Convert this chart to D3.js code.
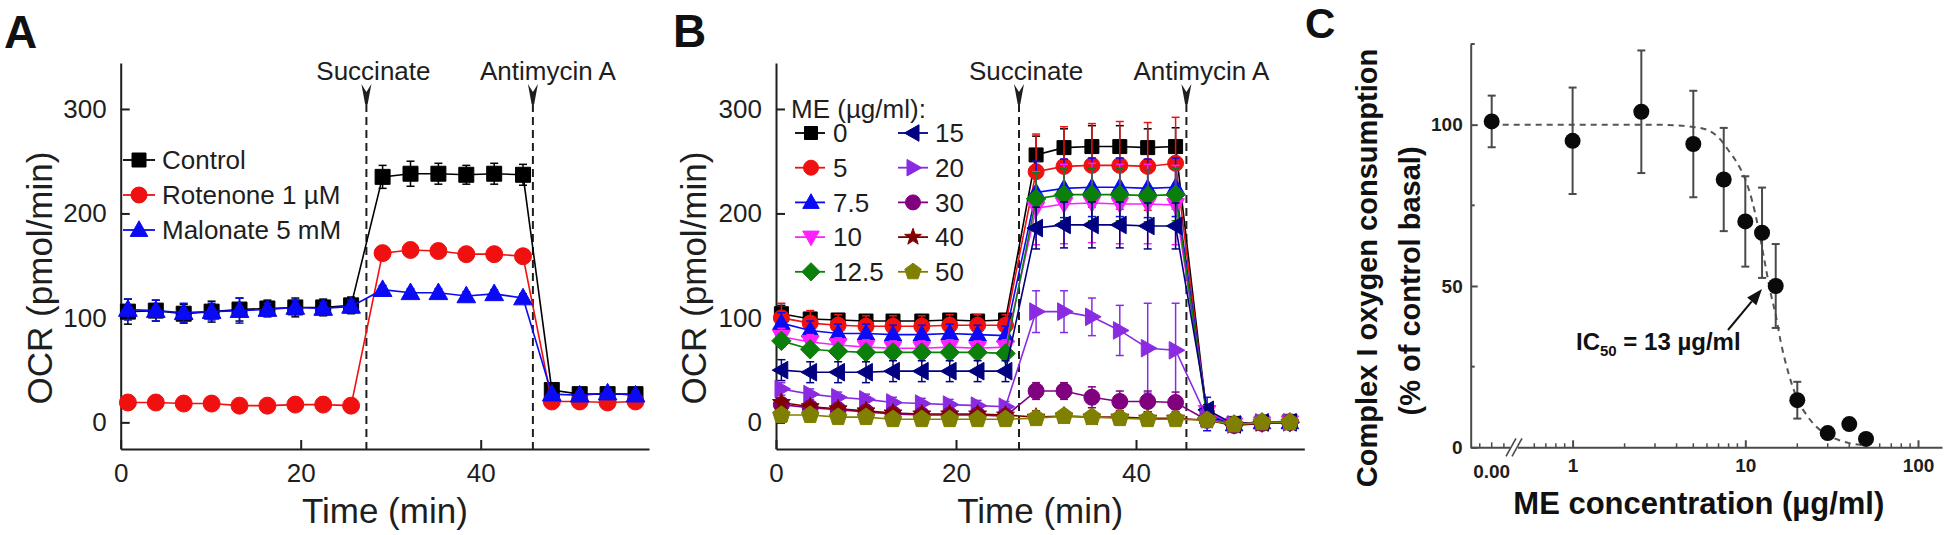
<!DOCTYPE html>
<html><head><meta charset="utf-8">
<script src="https://cdn.jsdelivr.net/npm/d3@7"></script>
<style>body{margin:0;background:#fff} svg text{font-family:"Liberation Sans",Arial,Helvetica,sans-serif}</style>
</head><body><svg id="fig" width="1946" height="535"></svg>
<script>
// ================= DATA =================
// Panel A : OCR (pmol/min) vs time (min)
const timesA = [0.8, 3.9, 7.0, 10.1, 13.2, 16.3, 19.4, 22.5, 25.6, 29.1, 32.2, 35.3, 38.4, 41.5, 44.7, 47.9, 51.0, 54.1, 57.2];
const aLabels = ["Control", "Rotenone 1 \u00b5M", "Malonate 5 mM"];
const aControl    = [106, 107, 104, 106, 108, 109, 110, 110, 112, 235, 238, 238, 237, 238, 237, 31, 27, 27, 27];
const aControlErr = [12, 10, 9, 10, 11, 8, 9, 8, 8, 11, 12, 10, 9, 10, 10, 4, 4, 4, 4];
const aRotenone    = [19, 19, 18, 18, 16, 16, 17, 17, 16, 162, 165, 164, 161, 161, 159, 20, 20, 19, 20];
const aRotenoneErr = [3, 3, 3, 3, 3, 3, 3, 3, 3, 4, 4, 4, 4, 4, 4, 2, 2, 2, 2];
const aMalonate    = [108, 107, 105, 106, 107, 108, 110, 109, 111, 127, 124, 124, 121, 123, 119, 27, 26, 28, 26];
const aMalonateErr = [10, 10, 9, 8, 12, 6, 7, 6, 6, 4, 4, 4, 4, 4, 4, 3, 3, 3, 3];
const aEventTimes = [27.3, 45.8];
const bEventTimes = [27.0, 45.6];
const eventLabels = ["Succinate", "Antimycin A"];

// Panel B : OCR for ME doses (µg/ml)
const timesB = [0.6, 3.8, 6.9, 10.0, 13.0, 16.2, 19.3, 22.4, 25.5, 28.9, 32.0, 35.1, 38.2, 41.3, 44.4, 47.9, 50.9, 54.0, 57.1];
const meDoses = ["0", "5", "7.5", "10", "12.5", "15", "20", "30", "40", "50"];
const bDose0    = [104, 99, 98, 97, 97, 97, 98, 97, 98, 256, 263, 264, 264, 263, 264, 5, -1, 0, 1];
const bDose0Err = [8, 6, 6, 6, 6, 6, 6, 6, 6, 18, 18, 20, 20, 18, 18, 4, 3, 3, 3];
const bDose5    = [100, 95, 93, 92, 92, 92, 93, 93, 93, 240, 245, 246, 246, 245, 248, 3, -2, 0, 0];
const bDose5Err = [14, 12, 10, 10, 10, 10, 10, 10, 10, 36, 38, 40, 42, 42, 44, 4, 3, 3, 3];
const bDose7_5    = [95, 88, 85, 85, 84, 84, 85, 84, 83, 220, 224, 225, 225, 224, 225, 8, -2, 0, 0];
const bDose7_5Err = [10, 9, 9, 9, 9, 9, 9, 9, 9, 30, 28, 28, 28, 28, 28, 16, 3, 3, 3];
const bDose10    = [82, 77, 74, 72, 71, 71, 72, 71, 72, 205, 209, 210, 209, 209, 208, 10, -2, -1, 0];
const bDose10Err = [8, 7, 7, 7, 7, 7, 7, 7, 7, 35, 38, 38, 38, 38, 38, 5, 3, 3, 3];
const bDose12_5    = [78, 70, 68, 67, 67, 67, 67, 67, 66, 214, 218, 218, 218, 217, 218, 4, -2, 0, 0];
const bDose12_5Err = [6, 5, 5, 5, 5, 5, 5, 5, 5, 25, 25, 25, 25, 25, 25, 3, 3, 3, 3];
const bDose15    = [50, 48, 48, 48, 49, 49, 49, 49, 49, 186, 189, 189, 189, 188, 188, 12, -2, 0, 0];
const bDose15Err = [10, 10, 10, 10, 10, 10, 10, 10, 10, 20, 22, 22, 22, 22, 22, 5, 3, 3, 3];
const bDose20    = [32, 27, 24, 22, 19, 18, 17, 16, 15, 106, 106, 101, 88, 71, 69, 4, -2, 0, 0];
const bDose20Err = [6, 5, 5, 5, 5, 5, 5, 5, 5, 20, 20, 18, 24, 43, 45, 3, 3, 3, 3];
const bDose30    = [17, 14, 12, 10, 8, 7, 7, 7, 6, 30, 30, 24, 20, 20, 19, 2, -3, -1, 0];
const bDose30Err = [4, 4, 4, 4, 4, 4, 4, 4, 4, 8, 8, 10, 10, 10, 10, 2, 2, 2, 2];
const bDose40    = [19, 15, 13, 11, 9, 8, 8, 8, 7, 5, 6, 5, 5, 4, 4, 2, -2, -1, 0];
const bDose40Err = [4, 4, 4, 4, 4, 4, 4, 4, 4, 6, 6, 6, 6, 6, 6, 2, 2, 2, 2];
const bDose50    = [7, 7, 5, 5, 3, 3, 3, 3, 3, 4, 6, 5, 4, 3, 3, 2, -2, 0, 0];
const bDose50Err = [3, 3, 3, 3, 3, 3, 3, 3, 3, 5, 5, 5, 5, 5, 5, 2, 2, 2, 2];

// Panel C : complex I OCR (% of control basal) vs ME concentration
const cConc = [0, 1, 2.5, 5, 7.5, 10, 12.5, 15, 20, 30, 40, 50];
const cMean = [101, 95, 104, 94, 83, 70, 66.5, 50, 14.6, 4.4, 7.2, 2.6];
const cErr  = [8, 16.5, 19, 16.5, 16, 14, 14, 13, 5.7, 0, 0, 0];
const cFitConc = [0, 1, 2, 3, 4, 5, 6, 7, 8, 9, 10, 11, 12, 13, 14, 15, 16, 18, 20, 23, 26, 30, 35, 40, 50];
const cFitVal  = [100, 100, 100, 100, 99.8, 99.3, 98.4, 96, 92, 88, 83, 76, 67, 57, 48, 41, 33, 22, 15, 9.5, 6.2, 3.8, 2.2, 1.3, 0.6];
const cZeroStandIn = 0.34;           // where "0" sits left of the axis break
const cXTickValues = [1, 10, 100];
const cXTickLabels = ["1", "10", "100"];
const cZeroLabel = "0.00";
const cYTicks = [0, 50, 100];
const cYMinor = [25, 75, 125];
const ocrTicks = [0, 100, 200, 300];
const timeTicks = [0, 20, 40];

// ================= DRAWING =================
const svg = d3.select("#fig");
const INK = "#1e1e1e";

function poly(pts) { return "M" + pts.map(p => p.join(",")).join("L") + "Z"; }
function shapePath(type, r) {
  switch (type) {
    case "square": return `M${-r},${-r}H${r}V${r}H${-r}Z`;
    case "circle": return d3.symbol(d3.symbolCircle, Math.PI * r * r)();
    case "triUp": return poly([[0, -r * 1.15], [r * 1.1, r * 0.8], [-r * 1.1, r * 0.8]]);
    case "triDown": return poly([[0, r * 1.15], [r * 1.1, -r * 0.8], [-r * 1.1, -r * 0.8]]);
    case "triLeft": return poly([[-r * 1.15, 0], [r * 0.8, -r * 1.1], [r * 0.8, r * 1.1]]);
    case "triRight": return poly([[r * 1.15, 0], [-r * 0.8, -r * 1.1], [-r * 0.8, r * 1.1]]);
    case "diamond": return poly([[0, -r * 1.3], [r * 1.3, 0], [0, r * 1.3], [-r * 1.3, 0]]);
    case "pentagon": return poly(d3.range(5).map(i => { const a = -Math.PI / 2 + i * 2 * Math.PI / 5; return [r * 1.15 * Math.cos(a), r * 1.15 * Math.sin(a)]; }));
    case "star": return poly(d3.range(10).map(i => { const a = -Math.PI / 2 + i * Math.PI / 5; const rr = i % 2 ? r * 0.55 : r * 1.35; return [rr * Math.cos(a), rr * Math.sin(a)]; }));
  }
}

function drawSeries(g, x, y, times, vals, errs, color, shape, r) {
  const pts = times.map((t, i) => ({ t, v: vals[i], e: errs[i] }));
  const eb = g.append("g").attr("stroke", color).attr("stroke-width", 1.5);
  pts.filter(d => d.e > 0).forEach(d => {
    const cx = x(d.t);
    eb.append("line").attr("x1", cx).attr("x2", cx).attr("y1", y(d.v - d.e)).attr("y2", y(d.v + d.e));
    [d.v - d.e, d.v + d.e].forEach(v => eb.append("line").attr("x1", cx - 4).attr("x2", cx + 4).attr("y1", y(v)).attr("y2", y(v)));
  });
  g.append("path").datum(pts)
    .attr("d", d3.line().x(d => x(d.t)).y(d => y(d.v)))
    .attr("fill", "none").attr("stroke", color).attr("stroke-width", 1.6);
  g.append("g").selectAll("path").data(pts).join("path")
    .attr("transform", d => `translate(${x(d.t)},${y(d.v)})`)
    .attr("d", shapePath(shape, r)).attr("fill", color).attr("stroke", color).attr("stroke-width", 1);
}

function legendItem(g, lx0, lx1, mx, tx, ly, color, shape, r, label) {
  g.append("line").attr("x1", lx0).attr("x2", lx1).attr("y1", ly).attr("y2", ly).attr("stroke", color).attr("stroke-width", 1.8);
  g.append("path").attr("transform", `translate(${mx},${ly})`).attr("d", shapePath(shape, r)).attr("fill", color).attr("stroke", color);
  g.append("text").attr("x", tx).attr("y", ly).attr("dy", "0.35em").attr("font-size", 26).attr("fill", INK).text(label);
}

function ocrFrame(g, x, y, events, titleX) {
  const xa = g.append("g").attr("transform", `translate(0,${y.range()[0]})`)
    .call(d3.axisBottom(x).tickValues(timeTicks).tickSizeInner(-9).tickSizeOuter(0).tickPadding(15));
  const ya = g.append("g").attr("transform", `translate(${x.range()[0]},0)`)
    .call(d3.axisLeft(y).tickValues(ocrTicks).tickSizeInner(-9).tickSizeOuter(0).tickPadding(14));
  [xa, ya].forEach(a => {
    a.select(".domain").attr("stroke", INK).attr("stroke-width", 2);
    a.selectAll(".tick line").attr("stroke", INK).attr("stroke-width", 2);
    a.selectAll(".tick text").attr("font-size", 26).attr("fill", INK).attr("font-family", null);
  });
  const [r0, r1] = x.range();
  g.append("text").attr("x", (r0 + r1) / 2).attr("y", 523).attr("text-anchor", "middle").attr("font-size", 35).attr("fill", INK).text("Time (min)");
  g.append("text").attr("transform", `translate(${titleX},278) rotate(-90)`).attr("text-anchor", "middle").attr("dy", "0.35em")
    .attr("font-size", 35).attr("fill", INK).text("OCR (pmol/min)");
  const offs = [7, 15];
  events.forEach((t, i) => {
    const cx = x(t);
    g.append("path").attr("d", `M${cx - 5},84L${cx},92L${cx + 5},84L${cx + 1.3},104L${cx - 1.3},104Z`).attr("fill", INK);
    g.append("line").attr("x1", cx).attr("x2", cx).attr("y1", 104).attr("y2", y.range()[0])
      .attr("stroke", INK).attr("stroke-width", 2).attr("stroke-dasharray", "8,5");
    g.append("text").attr("x", cx + offs[i]).attr("y", 80).attr("text-anchor", "middle").attr("font-size", 26).attr("fill", INK).text(eventLabels[i]);
  });
}

// ---------- Panel A ----------
{
  const g = svg.append("g");
  const x = d3.scaleLinear().domain([0, 58.7]).range([120.7, 649]);
  const y = d3.scaleLinear().domain([-25.5, 344]).range([449, 63]);
  ocrFrame(g, x, y, aEventTimes, 40);
  drawSeries(g, x, y, timesA, aControl, aControlErr, "#000000", "square", 7.5);
  drawSeries(g, x, y, timesA, aRotenone, aRotenoneErr, "#f01010", "circle", 8.5);
  drawSeries(g, x, y, timesA, aMalonate, aMalonateErr, "#0a0af5", "triUp", 8.5);
  const cols = ["#000000", "#f01010", "#0a0af5"], shapes = ["square", "circle", "triUp"], rs = [7, 8, 8];
  aLabels.forEach((lab, i) => legendItem(g, 123, 155, 139, 162, 160 + 35 * i, cols[i], shapes[i], rs[i], lab));
  g.append("text").attr("x", 4).attr("y", 48).attr("font-size", 46).attr("font-weight", "bold").attr("fill", "#111").text("A");
}

// ---------- Panel B ----------
{
  const g = svg.append("g");
  const x = d3.scaleLinear().domain([0, 58.7]).range([776, 1304.3]);
  const y = d3.scaleLinear().domain([-25.5, 344]).range([449, 63]);
  ocrFrame(g, x, y, bEventTimes, 694);
  const bVals = [bDose0, bDose5, bDose7_5, bDose10, bDose12_5, bDose15, bDose20, bDose30, bDose40, bDose50];
  const bErrs = [bDose0Err, bDose5Err, bDose7_5Err, bDose10Err, bDose12_5Err, bDose15Err, bDose20Err, bDose30Err, bDose40Err, bDose50Err];
  const colors = ["#000000", "#f01010", "#0a0af5", "#ff20ff", "#0a800a", "#000080", "#8a2be2", "#800080", "#800000", "#808000"];
  const shapes = ["square", "circle", "triUp", "triDown", "diamond", "triLeft", "triRight", "circle", "star", "pentagon"];
  const rs = [7, 8, 8, 8, 7.5, 8, 8, 8, 7, 8];
  meDoses.forEach((d, i) => drawSeries(g, x, y, timesB, bVals[i], bErrs[i], colors[i], shapes[i], rs[i]));
  g.append("text").attr("x", 791).attr("y", 109).attr("dy", "0.35em").attr("font-size", 26).attr("fill", INK).text("ME (\u00b5g/ml):");
  meDoses.forEach((d, i) => {
    const col = i < 5 ? 0 : 1, row = i % 5;
    const base = col ? [898, 928, 913, 935] : [795, 825, 811, 833];
    legendItem(g, base[0], base[1], base[2], base[3], 133 + 34.7 * row, colors[i], shapes[i], rs[i] - 0.5, d);
  });
  g.append("text").attr("x", 673).attr("y", 47).attr("font-size", 46).attr("font-weight", "bold").attr("fill", "#111").text("B");
}

// ---------- Panel C ----------
{
  const g = svg.append("g");
  const GRAY = "#4a4a4a";
  const x = d3.scaleLog().domain([0.257, 137.7]).range([1470.7, 1942]);
  const y = d3.scaleLinear().domain([0, 125]).range([447.3, 44]);
  const cx = c => x(c === 0 ? cZeroStandIn : c);
  // axes
  const ya = g.append("g").attr("transform", `translate(${x.range()[0]},0)`)
    .call(d3.axisLeft(y).tickValues(cYTicks).tickSizeInner(-7).tickSizeOuter(0).tickPadding(8));
  const xa = g.append("g").attr("transform", `translate(0,${y.range()[0]})`)
    .call(d3.axisBottom(x).tickValues(cXTickValues).tickFormat((d, i) => cXTickLabels[i]).tickSizeInner(-7).tickSizeOuter(0).tickPadding(11));
  [xa, ya].forEach(a => {
    a.select(".domain").attr("stroke", GRAY).attr("stroke-width", 2);
    a.selectAll(".tick line").attr("stroke", GRAY).attr("stroke-width", 2);
    a.selectAll(".tick text").attr("font-size", 19).attr("font-weight", "bold").attr("fill", INK).attr("font-family", null);
  });
  cYMinor.forEach(v => g.append("line").attr("x1", x.range()[0]).attr("x2", x.range()[0] + 4).attr("y1", y(v)).attr("y2", y(v)).attr("stroke", GRAY).attr("stroke-width", 2));
  const minorX = [0.6, 0.7, 0.8, 0.9, 2, 3, 4, 5, 6, 7, 8, 9, 20, 30, 40, 50, 60, 70, 80, 90];
  minorX.concat([0.29, 0.40]).forEach(v => g.append("line").attr("x1", x(v)).attr("x2", x(v)).attr("y1", y(0)).attr("y2", y(0) - 4).attr("stroke", GRAY).attr("stroke-width", 1.5));
  g.append("line").attr("x1", cx(0)).attr("x2", cx(0)).attr("y1", y(0)).attr("y2", y(0) - 5).attr("stroke", GRAY).attr("stroke-width", 1.5);
  g.append("text").attr("x", cx(0)).attr("y", 477.5).attr("text-anchor", "middle").attr("font-size", 19).attr("font-weight", "bold").attr("fill", INK).text(cZeroLabel);
  // axis break
  const bx = 1514, by = y(0);
  g.append("rect").attr("x", bx - 4).attr("y", by - 3).attr("width", 8).attr("height", 6).attr("fill", "#fff");
  [-3, 3].forEach(o => g.append("line").attr("x1", bx + o - 5).attr("y1", by + 9).attr("x2", bx + o + 5).attr("y2", by - 9).attr("stroke", GRAY).attr("stroke-width", 1.6));
  // titles
  g.append("text").attr("x", 1698.8).attr("y", 514).attr("text-anchor", "middle").attr("font-size", 31).attr("font-weight", "bold").attr("fill", "#111").text("ME concentration (\u00b5g/ml)");
  g.append("text").attr("transform", "translate(1367,268) rotate(-90)").attr("text-anchor", "middle").attr("dy", "0.35em").attr("font-size", 29).attr("font-weight", "bold").attr("fill", "#111").text("Complex I oxygen consumption");
  g.append("text").attr("transform", "translate(1410,281) rotate(-90)").attr("text-anchor", "middle").attr("dy", "0.35em").attr("font-size", 29).attr("font-weight", "bold").attr("fill", "#111").text("(% of control basal)");
  // fit curve
  const fit = cFitConc.map((c, i) => [cx(c), y(cFitVal[i])]);
  g.append("path").attr("d", d3.line().curve(d3.curveMonotoneX)(fit)).attr("fill", "none").attr("stroke", "#555").attr("stroke-width", 2).attr("stroke-dasharray", "6,5");
  // error bars & points
  const pts = cConc.map((c, i) => ({ c, v: cMean[i], e: cErr[i] }));
  pts.filter(d => d.e > 0).forEach(d => {
    const px = cx(d.c);
    g.append("line").attr("x1", px).attr("x2", px).attr("y1", y(d.v - d.e)).attr("y2", y(d.v + d.e)).attr("stroke", GRAY).attr("stroke-width", 2);
    [d.v - d.e, d.v + d.e].forEach(v => g.append("line").attr("x1", px - 4).attr("x2", px + 4).attr("y1", y(v)).attr("y2", y(v)).attr("stroke", GRAY).attr("stroke-width", 2));
  });
  g.selectAll("circle.pt").data(pts).join("circle").attr("class", "pt")
    .attr("cx", d => cx(d.c)).attr("cy", d => y(d.v)).attr("r", 8).attr("fill", "#0a0a0a");
  // IC50 annotation
  const tip = [x(13) - 3, y(50) + 3], tail = [1728, 330];
  const ang = Math.atan2(tip[1] - tail[1], tip[0] - tail[0]);
  const hl = 16, hw = 6;
  const base = [tip[0] - hl * Math.cos(ang), tip[1] - hl * Math.sin(ang)];
  g.append("line").attr("x1", tail[0]).attr("y1", tail[1]).attr("x2", base[0]).attr("y2", base[1]).attr("stroke", "#111").attr("stroke-width", 2);
  g.append("path").attr("d", poly([tip, [base[0] + hw * Math.sin(ang), base[1] - hw * Math.cos(ang)], [base[0] - hw * Math.sin(ang), base[1] + hw * Math.cos(ang)]])).attr("fill", "#111");
  const t = g.append("text").attr("x", 1576).attr("y", 350).attr("font-size", 24).attr("font-weight", "bold").attr("fill", "#111");
  t.append("tspan").text("IC");
  t.append("tspan").attr("font-size", 15).attr("dy", 6).text("50");
  t.append("tspan").attr("dy", -6).text(" = 13 \u00b5g/ml");
  g.append("text").attr("x", 1305).attr("y", 38).attr("font-size", 42).attr("font-weight", "bold").attr("fill", "#111").text("C");
}
</script></body></html>
